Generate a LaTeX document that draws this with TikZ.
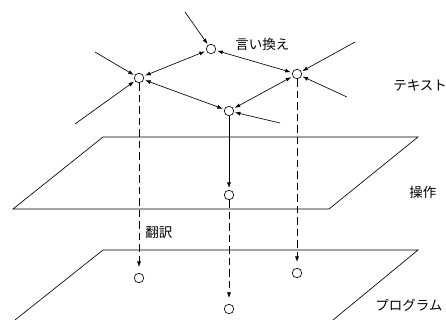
\documentclass[tikz,border=0pt]{standalone}
\usepackage{fontspec}
\setmainfont{Noto Sans CJK JP}
\usepackage{tikz}
\usetikzlibrary{arrows.meta}

\begin{document}
\begin{tikzpicture}[
        x=1pt, y=-1pt,
        line width=0.65pt,
        >={Latex[length=5.5pt,width=4pt]},
        state/.style={circle, draw, inner sep=0pt, minimum size=9.5pt},
        label/.style={anchor=west, inner sep=0pt, font=\fontsize{13.5}{15}\selectfont},
        trans/.style={->, dash pattern=on 7.5pt off 4pt, shorten >=6pt}
    ]
        \useasboundingbox (0,0) rectangle (446,320);

        \draw (103,137) -- (418,137) -- (329,209) -- (13,209) -- cycle;
        \draw (15,320) -- (103,250) -- (418,250) -- (333,320);

        \node[state] (A) at (211,49) {};
        \node[state] (B) at (139,78) {};
        \node[state] (C) at (297,74) {};
        \node[state] (D) at (229,111) {};
        \node[state] (E) at (229,195) {};
        \node[state] (F) at (139,278) {};
        \node[state] (G) at (229,309) {};
        \node[state] (H) at (297,273) {};

        \coordinate (inA) at (185,12);
        \coordinate (inB1) at (95,52);
        \coordinate (inB2) at (75,124);
        \coordinate (inC1) at (355,42);
        \coordinate (inC2) at (347,97);
        \coordinate (inD) at (280,123);

        \draw[->, shorten >=1pt] (inA) -- (A);
        \draw[->, shorten >=1pt] (inB1) -- (B);
        \draw[->, shorten >=1pt] (inB2) -- (B);
        \draw[->, shorten >=1pt] (inC1) -- (C);
        \draw[->, shorten >=1pt] (inC2) -- (C);
        \draw[->, shorten >=1pt] (inD) -- (D);

        \draw[<->, shorten >=1.5pt, shorten <=1.5pt] (A) -- (B);
        \draw[<->, shorten >=1.5pt, shorten <=1.5pt] (A) -- (C);
        \draw[<->, shorten >=1.5pt, shorten <=1.5pt] (B) -- (D);
        \draw[<->, shorten >=1.5pt, shorten <=1.5pt] (C) -- (D);

        \draw[->, shorten >=2pt] (D) -- (E);
        \draw[trans] (B) -- (F);
        \draw[trans] (E) -- (G);
        \draw[trans] (C) -- (H);

        \node[label] (para) at (235,44) {言い換え};
        \node[label] (text) at (393,85) {テキスト};
        \node[label] (oper) at (409,192) {操作};
        \node[label] (tran) at (145,232) {翻訳};
        \node[label] (prog) at (375,305) {プログラム};
    \end{tikzpicture}
\end{document}
